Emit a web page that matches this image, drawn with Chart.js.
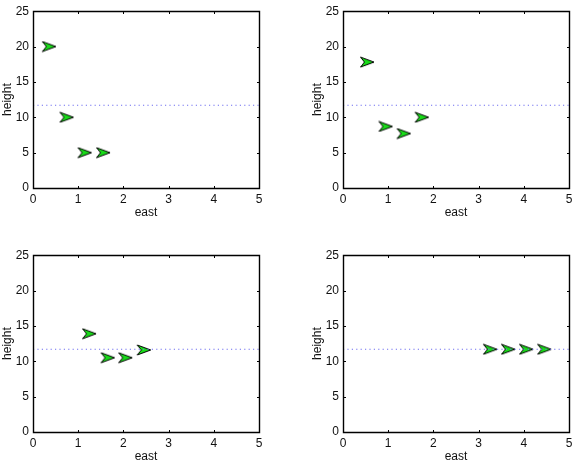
<!DOCTYPE html>
<html>
<head>
<meta charset="utf-8">
<script src="https://cdn.jsdelivr.net/npm/chart.js@4.4.1/dist/chart.umd.min.js"></script>
<style>
  html, body { margin: 0; padding: 0; background: #fff; }
  #wrap { position: relative; width: 578px; height: 466px; overflow: hidden; }
  .cell { position: absolute; width: 268px; height: 222px; }
  .cell canvas { display: block; }
</style>
</head>
<body>
<div id="wrap">
  <div class="cell" style="left:0px;top:0px;"><canvas id="c1" width="268" height="222"></canvas></div>
  <div class="cell" style="left:310px;top:0px;"><canvas id="c2" width="268" height="222"></canvas></div>
  <div class="cell" style="left:0px;top:244px;"><canvas id="c3" width="268" height="222"></canvas></div>
  <div class="cell" style="left:310px;top:244px;"><canvas id="c4" width="268" height="222"></canvas></div>
</div>
<script>
// ---- data ----
const east1   = [0.35, 0.74, 1.14, 1.55];
const height1 = [20.0, 10.0, 5.0, 5.0];
const east2   = [0.53, 0.94, 1.34, 1.74];
const height2 = [17.8, 8.7, 7.7, 10.0];
const east3   = [1.24, 1.65, 2.04, 2.45];
const height3 = [13.9, 10.5, 10.5, 11.6];
const east4   = [3.25, 3.65, 4.05, 4.45];
const height4 = [11.7, 11.7, 11.7, 11.7];
const targetHeight = 11.7;
const eastRange = [0, 5];
const heightRange = [0, 25];
const eastTicks = [0, 1, 2, 3, 4, 5];
const heightTicks = [0, 5, 10, 15, 20, 25];

// ---- arrow marker ----
function makeArrow() {
  const c = document.createElement('canvas');
  c.width = 16; c.height = 12;
  const g = c.getContext('2d');
  g.beginPath();
  g.moveTo(15, 6);
  g.lineTo(1.5, 1);
  g.lineTo(5.5, 6);
  g.lineTo(1.5, 11);
  g.closePath();
  g.fillStyle = '#18dc18';
  g.fill();
  g.lineWidth = 1;
  g.strokeStyle = '#000';
  g.lineJoin = 'miter';
  g.stroke();
  return c;
}
const arrow = makeArrow();

const FONT = "'Liberation Sans', Arial, Helvetica, sans-serif";

const framePlugin = {
  id: 'frame',
  afterDatasetsDraw(chart) {
    const ctx = chart.ctx, a = chart.chartArea;
    const xs = chart.scales.x, ys = chart.scales.y;
    ctx.save();
    ctx.strokeStyle = '#000';
    ctx.lineWidth = 1.4;
    const L = Math.round(a.left) + 0.5, R = Math.round(a.right) + 0.5;
    const T = Math.round(a.top) + 0.5, B = Math.round(a.bottom) + 0.5;
    ctx.beginPath();
    ctx.rect(L, T, R - L, B - T);
    ctx.stroke();
    ctx.lineWidth = 1;
    const tl = 2.5;
    ctx.beginPath();
    xs.ticks.forEach(t => {
      const px = Math.round(xs.getPixelForValue(t.value)) + 0.5;
      ctx.moveTo(px, B); ctx.lineTo(px, B - tl);
      ctx.moveTo(px, T); ctx.lineTo(px, T + tl);
    });
    ys.ticks.forEach(t => {
      const py = Math.round(ys.getPixelForValue(t.value)) + 0.5;
      ctx.moveTo(L, py); ctx.lineTo(L + tl, py);
      ctx.moveTo(R, py); ctx.lineTo(R - tl, py);
    });
    ctx.stroke();
    ctx.restore();
  }
};

function makeChart(id, ex, hy) {
  const pts = ex.map((x, i) => ({ x: x, y: hy[i] }));
  new Chart(document.getElementById(id), {
    type: 'scatter',
    data: {
      datasets: [
        {
          type: 'line',
          data: [{ x: eastRange[0], y: targetHeight }, { x: eastRange[1], y: targetHeight }],
          borderColor: '#6f6ff0',
          borderWidth: 1,
          borderDash: [1.2, 3.2],
          pointRadius: 0,
          fill: false
        },
        {
          data: pts,
          pointStyle: arrow,
          pointRadius: 7,
          showLine: false
        }
      ]
    },
    options: {
      responsive: false,
      animation: false,
      devicePixelRatio: 1,
      layout: { padding: { left: 0, top: 10, right: 9, bottom: 0 } },
      plugins: { legend: { display: false }, tooltip: { enabled: false } },
      scales: {
        x: {
          type: 'linear',
          min: eastRange[0], max: eastRange[1],
          afterBuildTicks(s) { s.ticks = eastTicks.map(v => ({ value: v })); },
          afterFit(s) { s.height = 34; },
          grid: { display: false, drawTicks: false },
          border: { display: false },
          ticks: { color: '#111', font: { family: FONT, size: 12 }, padding: 4, maxRotation: 0 },
          title: { display: true, text: 'east', color: '#111', font: { family: FONT, size: 12 }, padding: { top: 0, bottom: 2 } }
        },
        y: {
          type: 'linear',
          min: heightRange[0], max: heightRange[1],
          afterBuildTicks(s) { s.ticks = heightTicks.map(v => ({ value: v })); },
          afterFit(s) { s.width = 33; },
          grid: { display: false, drawTicks: false },
          border: { display: false },
          ticks: { color: '#111', font: { family: FONT, size: 12 }, padding: 4 },
          title: { display: true, text: 'height', color: '#111', font: { family: FONT, size: 12 }, padding: { top: 0, bottom: 0 } }
        }
      }
    },
    plugins: [framePlugin]
  });
}

makeChart('c1', east1, height1);
makeChart('c2', east2, height2);
makeChart('c3', east3, height3);
makeChart('c4', east4, height4);
</script>
</body>
</html>
